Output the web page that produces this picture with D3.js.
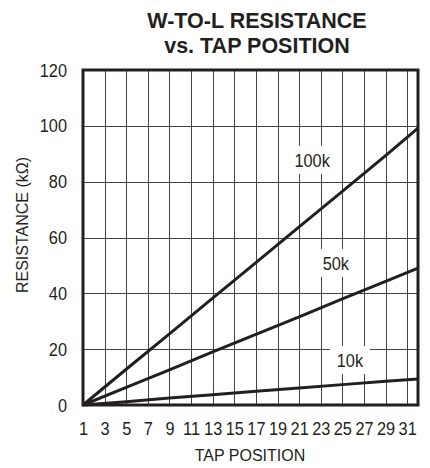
<!DOCTYPE html>
<html>
<head>
<meta charset="utf-8">
<script src="https://cdn.jsdelivr.net/npm/d3@7"></script>
<style>
  html, body { margin: 0; padding: 0; background: #fff; }
  svg { display: block; }
</style>
</head>
<body>
<svg id="chart" width="430" height="468"></svg>
<script>
// values
const taps = [1, 5, 9, 13, 17, 21, 25, 29, 32];
const r100k = [0, 12.8, 25.5, 38.3, 51.0, 63.8, 76.5, 89.3, 99.2];
const r50k = [0, 6.3, 12.6, 19.0, 25.3, 31.6, 38.0, 44.3, 49.0];
const r10k = [0, 1.2, 2.5, 3.7, 4.9, 6.1, 7.3, 8.5, 9.3];
const seriesNames = ['100k', '50k', '10k'];
const xTicks = [1, 3, 5, 7, 9, 11, 13, 15, 17, 19, 21, 23, 25, 27, 29, 31];
const yTicks = [0, 20, 40, 60, 80, 100, 120];

// where each curve label sits (tap, kΩ)
const labelSpots = [
  { name: '100k', tap: 22.2, value: 87.8 },
  { name: '50k', tap: 24.4, value: 50.9 },
  { name: '10k', tap: 25.7, value: 16.1 },
];

const ink = '#231f20';
const gridColor = '#444';
const regular = '"Liberation Sans", Arial, sans-serif';
const squeeze = 0.86; // no narrow face installed, so condense by hand
const tickFont = 19;

const margin = { top: 70, right: 12, bottom: 63, left: 83 };
const width = 430 - margin.left - margin.right;
const height = 468 - margin.top - margin.bottom;

const svg = d3.select('#chart');
const g = svg.append('g').attr('transform', `translate(${margin.left},${margin.top})`);

const x = d3.scaleLinear().domain([1, 32]).range([0, width]);
const y = d3.scaleLinear().domain([0, 120]).range([height, 0]);

// title
[['W-TO-L RESISTANCE', 28], ['vs. TAP POSITION', 53]].forEach(([txt, ty]) => {
  svg.append('text')
    .attr('x', 257).attr('y', ty)
    .attr('text-anchor', 'middle')
    .attr('font-family', regular).attr('font-weight', 'bold').attr('font-size', 21.5)
    .attr('fill', ink)
    .text(txt);
});

// grid
g.append('g')
  .selectAll('line')
  .data(xTicks.filter((t) => t > 1))
  .join('line')
  .attr('x1', (d) => Math.round(x(d)) + 0.5)
  .attr('x2', (d) => Math.round(x(d)) + 0.5)
  .attr('y1', 0).attr('y2', height)
  .attr('stroke', gridColor).attr('stroke-width', 1);
g.append('g')
  .selectAll('line')
  .data(yTicks.filter((t) => t > 0 && t < 120))
  .join('line')
  .attr('y1', (d) => Math.round(y(d)) + 0.5)
  .attr('y2', (d) => Math.round(y(d)) + 0.5)
  .attr('x1', 0).attr('x2', width)
  .attr('stroke', gridColor).attr('stroke-width', 1);

// label boxes knock out the grid
const labels = g.append('g');
labels.selectAll('rect')
  .data(labelSpots)
  .join('rect')
  .attr('x', (d) => x(d.tap) - 20)
  .attr('y', (d) => y(d.value) - 14)
  .attr('width', 40).attr('height', 28)
  .attr('fill', '#fff');
labels.selectAll('text')
  .data(labelSpots)
  .join('text')
  .attr('transform', (d) => `translate(${x(d.tap)},${y(d.value) + 7}) scale(${squeeze},1)`)
  .attr('text-anchor', 'middle')
  .attr('font-family', regular).attr('font-size', tickFont)
  .attr('fill', ink)
  .text((d) => d.name);

// curves
const line = d3.line()
  .x((d) => x(d[0]))
  .y((d) => y(d[1]));
const curves = [r100k, r50k, r10k].map((vals, i) => ({
  name: seriesNames[i],
  points: taps.map((t, j) => [t, vals[j]]),
}));
g.append('g')
  .selectAll('path')
  .data(curves)
  .join('path')
  .attr('d', (d) => line(d.points))
  .attr('fill', 'none')
  .attr('stroke', ink)
  .attr('stroke-width', 3);

// frame
g.append('rect')
  .attr('x', 0).attr('y', 0)
  .attr('width', width).attr('height', height)
  .attr('fill', 'none')
  .attr('stroke', ink)
  .attr('stroke-width', 3);

// axes
const xAxis = g.append('g')
  .attr('transform', `translate(0,${height})`)
  .call(d3.axisBottom(x).tickValues(xTicks).tickSize(0).tickPadding(17));
const yAxis = g.append('g')
  .call(d3.axisLeft(y).tickValues(yTicks).tickSize(0).tickPadding(16));
[xAxis, yAxis].forEach((ax) => {
  ax.select('.domain').remove();
  ax.selectAll('text')
    .attr('font-family', regular)
    .attr('font-size', tickFont)
    .attr('fill', ink);
});
xAxis.selectAll('text').attr('transform', `scale(${squeeze},1)`);
yAxis.selectAll('text')
  .attr('x', -16 / squeeze)
  .attr('transform', `scale(${squeeze},1)`);

// axis titles
svg.append('text')
  .attr('x', 250).attr('y', 461)
  .attr('text-anchor', 'middle')
  .attr('font-family', regular).attr('font-size', 16)
  .attr('fill', ink)
  .text('TAP POSITION');
svg.append('text')
  .attr('transform', 'translate(28,225) rotate(-90)')
  .attr('text-anchor', 'middle')
  .attr('font-family', regular).attr('font-size', 16)
  .attr('fill', ink)
  .text('RESISTANCE (kΩ)');
</script>
</body>
</html>
